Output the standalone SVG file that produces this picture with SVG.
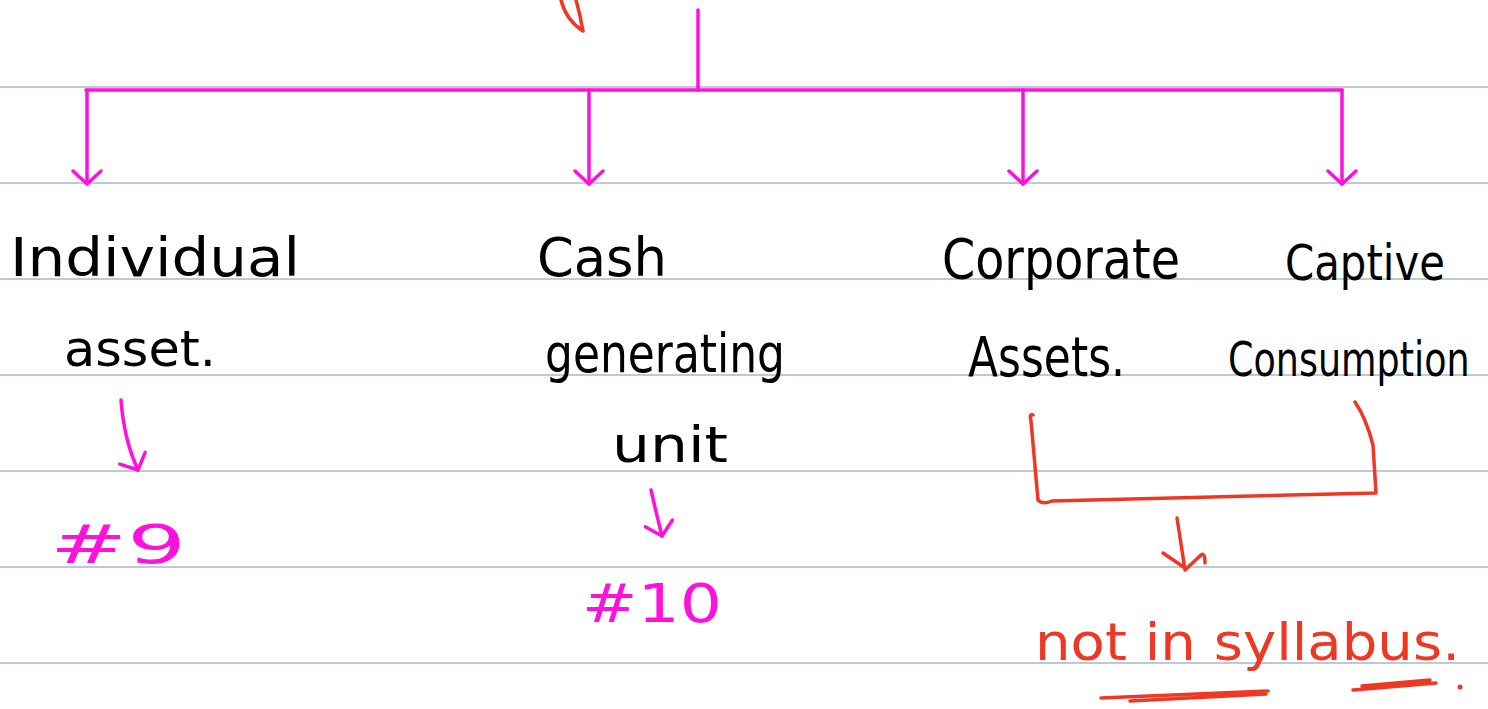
<svg xmlns="http://www.w3.org/2000/svg" width="1488" height="709" viewBox="0 0 1488 709">
  <style>
    .rule { stroke: #a8b6cb; stroke-width: 1.5; }
    .ink { font-family: "DejaVu Sans", "Liberation Sans", sans-serif; fill: #000; }
    .pink { stroke: #ff10dc; stroke-width: 3.5; fill: none; stroke-linecap: round; stroke-linejoin: round; }
    .red { stroke: #ee3824; stroke-width: 3.5; fill: none; stroke-linecap: round; stroke-linejoin: round; }
    .pinkText { font-family: "DejaVu Sans", "Liberation Sans", sans-serif; fill: #ff10dc; }
    .redText { font-family: "DejaVu Sans", "Liberation Sans", sans-serif; fill: #ee3824; }
  </style>
  <defs>
    <marker id="vhead" viewBox="-20 -20 40 40" markerWidth="40" markerHeight="40" refX="0" refY="0" orient="auto" markerUnits="userSpaceOnUse">
      <path d="M-13,-14 L0,0 L-13,14" fill="none" stroke="#ff10dc" stroke-width="3.5" stroke-linecap="round" stroke-linejoin="round"/>
    </marker>
  </defs>
  <rect width="1488" height="709" fill="#fff"/>
  <!-- ruled paper -->
  <g id="rules">
    <line class="rule" x1="0" y1="87" x2="1488" y2="87"/>
    <line class="rule" x1="0" y1="183" x2="1488" y2="183"/>
    <line class="rule" x1="0" y1="279" x2="1488" y2="279"/>
    <line class="rule" x1="0" y1="375" x2="1488" y2="375"/>
    <line class="rule" x1="0" y1="471" x2="1488" y2="471"/>
    <line class="rule" x1="0" y1="567" x2="1488" y2="567"/>
    <line class="rule" x1="0" y1="663" x2="1488" y2="663"/>
  </g>
  <!-- stroke fragment at top edge -->
  <path class="red" d="M561,0 Q566,20 583,31 Q580,14 576,0"/>
  <!-- connectors -->
  <g id="connectors">
    <line class="pink" x1="698" y1="10" x2="698" y2="90"/>
    <line class="pink" x1="86" y1="90" x2="1342" y2="90"/>
    <line class="pink" x1="87" y1="90" x2="87" y2="184" marker-end="url(#vhead)"/>
    <line class="pink" x1="589" y1="90" x2="589" y2="184" marker-end="url(#vhead)"/>
    <line class="pink" x1="1023" y1="90" x2="1023" y2="184" marker-end="url(#vhead)"/>
    <line class="pink" x1="1342" y1="90" x2="1342" y2="184" marker-end="url(#vhead)"/>
    <path class="pink" d="M121,400 Q124,440 138,470" marker-end="url(#vhead)"/>
    <path class="pink" d="M651,490 Q656,512 662,536" marker-end="url(#vhead)"/>
    <path class="red" d="M1033,415 Q1029,413 1031,421 L1038,500 Q1042,505 1052,501 L1376,493 L1373,445 Q1366,418 1355,402"/>
    <path class="red" d="M1177,518 L1185,570 M1163,553 L1185,568 M1185,570 L1201,555 Q1205,552 1205,563"/>
  </g>
  <!-- nodes -->
  <g id="individual-asset">
    <text class="ink" x="10" y="276" font-size="54" textLength="290" lengthAdjust="spacingAndGlyphs">Individual</text>
    <text class="ink" x="64" y="366" font-size="50" textLength="152" lengthAdjust="spacingAndGlyphs">asset.</text>
  </g>
  <g id="cash-generating-unit">
    <text class="ink" x="537" y="276" font-size="54" textLength="130" lengthAdjust="spacingAndGlyphs">Cash</text>
    <text class="ink" x="545" y="372" font-size="54" textLength="240" lengthAdjust="spacingAndGlyphs">generating</text>
    <text class="ink" x="612" y="462" font-size="50" textLength="116" lengthAdjust="spacingAndGlyphs">unit</text>
  </g>
  <g id="corporate-assets">
    <text class="ink" x="942" y="278" font-size="56" textLength="238" lengthAdjust="spacingAndGlyphs">Corporate</text>
    <text class="ink" x="968" y="376" font-size="56" textLength="157" lengthAdjust="spacingAndGlyphs">Assets.</text>
  </g>
  <g id="captive-consumption">
    <text class="ink" x="1285" y="280" font-size="50" textLength="160" lengthAdjust="spacingAndGlyphs">Captive</text>
    <text class="ink" transform="translate(1228,376) scale(0.76,1)" x="0" y="0" font-size="48">Consumption</text>
  </g>
  <g id="ref-9">
    <text class="pinkText" x="50" y="563" font-size="54" textLength="136" lengthAdjust="spacingAndGlyphs">#9</text>
  </g>
  <g id="ref-10">
    <text class="pinkText" x="582" y="622" font-size="54" textLength="140" lengthAdjust="spacingAndGlyphs">#10</text>
  </g>
  <g id="not-in-syllabus">
    <text class="redText" x="1035" y="660" font-size="52" textLength="425" lengthAdjust="spacingAndGlyphs">not in syllabus.</text>
    <path class="red" stroke-width="5" d="M1101,698 L1268,691 M1130,701 L1266,694"/>
    <path class="red" stroke-width="5" d="M1353,690 L1436,683 M1362,686 L1430,680"/>
    <circle cx="1460" cy="687" r="2.5" fill="#ee3824"/>
  </g>
</svg>
